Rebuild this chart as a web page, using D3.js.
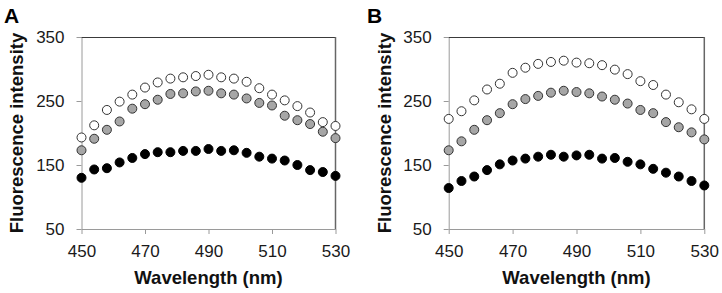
<!DOCTYPE html>
<html>
<head>
<meta charset="utf-8">
<script src="https://cdn.jsdelivr.net/npm/d3@7"></script>
<style>
  body { margin: 0; background: #fff; }
  svg { display: block; font-family: "Liberation Sans", Arial, sans-serif; }
</style>
</head>
<body>
<svg id="chart" width="722" height="293"></svg>
<script>
// Wavelengths (nm), sampled every 4 nm
const wavelengths = [450, 454, 458, 462, 466, 470, 474, 478, 482, 486, 490,
  494, 498, 502, 506, 510, 514, 518, 522, 526, 530];

const xTicks = [450, 470, 490, 510, 530];
const yTicks = [50, 150, 250, 350];

// Panel A
const aOpen = [193, 212, 236, 249, 260, 271, 279, 285, 287, 289, 291,
  287, 285, 280, 270, 260, 251, 242, 232, 217, 211];
const aGray = [173, 191, 205, 218, 238, 245, 252, 261, 262, 265, 266,
  262, 260, 254, 247, 243, 227, 220, 214, 202, 192];
const aBlack = [130, 143, 145, 154, 161, 167, 170, 170, 172, 172, 175,
  172, 173, 169, 163, 160, 157, 150, 142, 139, 133];

// Panel B
const bOpen = [222, 234, 251, 268, 277, 294, 302, 308, 311, 313, 310,
  309, 306, 299, 292, 281, 275, 260, 248, 237, 222];
const bGray = [173, 187, 205, 220, 231, 245, 253, 258, 263, 266, 264,
  262, 257, 252, 246, 236, 231, 217, 209, 201, 190];
const bBlack = [114, 125, 132, 142, 151, 157, 160, 163, 166, 163, 165,
  166, 160, 161, 155, 151, 144, 138, 132, 125, 118];

const svg = d3.select('#chart');

/**
 * Draw one framed scatter panel
 */
function drawPanel(p) {
  const { left, right, top, bottom, letter, letterX, titleX, series } = p;

  const x = d3.scaleLinear().domain([450, 530]).range([left, right]);
  const y = d3.scaleLinear().domain([50, 350]).range([bottom, top]);

  const g = svg.append('g');

  // y axis (left edge of frame)
  const yAxis = g.append('g')
    .attr('transform', `translate(${left},0)`)
    .call(d3.axisLeft(y).tickValues(yTicks).tickSize(5).tickPadding(12).tickSizeOuter(0));

  // x axis (bottom edge of frame)
  const xAxis = g.append('g')
    .attr('transform', `translate(0,${bottom})`)
    .call(d3.axisBottom(x).tickValues(xTicks).tickSize(5).tickPadding(11).tickSizeOuter(0));

  [yAxis, xAxis].forEach(ax => {
    ax.select('.domain').style('stroke', '#9a9a9a');
    ax.selectAll('.tick line').style('stroke', '#9a9a9a');
    ax.selectAll('.tick text')
      .style('font-size', '17px')
      .style('fill', '#1a1a1a');
  });

  // top and right frame lines
  g.append('line')
    .attr('x1', left).attr('x2', right)
    .attr('y1', top + 0.5).attr('y2', top + 0.5)
    .style('stroke', '#3a3a3a');
  g.append('line')
    .attr('x1', right).attr('x2', right)
    .attr('y1', top).attr('y2', bottom)
    .style('stroke', '#666')
    .style('stroke-width', 1.5);

  // points
  series.forEach(s => {
    g.append('g').selectAll('circle')
      .data(s.values)
      .join('circle')
      .attr('cx', (d, i) => x(wavelengths[i]))
      .attr('cy', d => y(d))
      .attr('r', 4.5)
      .style('fill', s.fill)
      .style('stroke', s.stroke)
      .style('stroke-width', 1);
  });

  // axis titles
  g.append('text')
    .attr('x', (left + right) / 2)
    .attr('y', 284)
    .attr('text-anchor', 'middle')
    .style('font-size', '18.5px')
    .style('font-weight', 'bold')
    .style('fill', '#111')
    .text('Wavelength (nm)');

  g.append('text')
    .attr('transform', `translate(${titleX},${(top + bottom) / 2}) rotate(-90)`)
    .attr('text-anchor', 'middle')
    .style('font-size', '18.5px')
    .style('font-weight', 'bold')
    .style('fill', '#111')
    .text('Fluorescence intensity');

  // panel letter
  g.append('text')
    .attr('x', letterX)
    .attr('y', 23)
    .style('font-size', '21px')
    .style('font-weight', 'bold')
    .style('fill', '#000')
    .text(letter);
}

drawPanel({
  left: 81.5, right: 335.5, top: 37, bottom: 229,
  letter: 'A', letterX: 4, titleX: 22.5,
  series: [
    { values: aOpen, fill: '#fff', stroke: '#333' },
    { values: aGray, fill: '#a6a6a6', stroke: '#333' },
    { values: aBlack, fill: '#000', stroke: '#000' }
  ]
});

drawPanel({
  left: 448.7, right: 704.3, top: 37, bottom: 229,
  letter: 'B', letterX: 367, titleX: 390.5,
  series: [
    { values: bOpen, fill: '#fff', stroke: '#333' },
    { values: bGray, fill: '#a6a6a6', stroke: '#333' },
    { values: bBlack, fill: '#000', stroke: '#000' }
  ]
});
</script>
</body>
</html>
